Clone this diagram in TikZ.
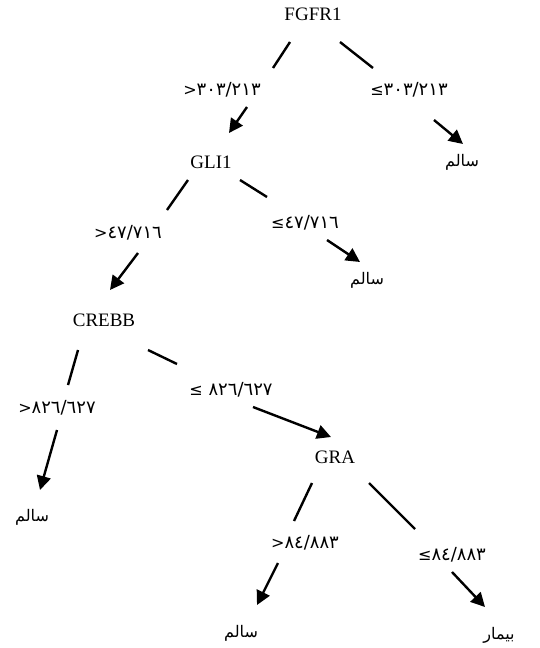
\documentclass[tikz,border=0pt]{standalone}
\usepackage{fontspec}
\setmainfont{Liberation Serif}
\newfontfamily\arabicfont[Script=Arabic]{DejaVu Sans}
\newfontfamily\numfont{DejaVu Sans}
\TeXXeTstate=1
\usetikzlibrary{arrows.meta}
% relation sign kept in its own left-to-right box
\newcommand{\relsign}[1]{\hbox{\fontsize{16}{19}\selectfont #1}}
\begin{document}
\begin{tikzpicture}[x=1pt,y=-1pt,
  feature/.style={inner sep=0pt,font=\fontsize{19}{22}\selectfont},
  cond/.style={inner sep=0pt,font=\numfont\fontsize{18}{21}\selectfont},
  leaf/.style={inner sep=0pt,font=\arabicfont\fontsize{16}{19}\selectfont},
  branch/.style={line width=2.4pt},
  arr/.style={line width=2.4pt,-{Triangle[length=14pt,width=14pt]}}]
\useasboundingbox[fill=white] (0,0) rectangle (540,648);

% feature nodes
\node[feature] (fgfr) at (313,14) {FGFR1};
\node[feature] (gli)  at (211,162) {GLI1};
\node[feature] (crebb) at (104,320) {CREBB};
\node[feature] (gra)  at (335,457) {GRA};

% leaves
\node[leaf] (h1) at (462,162) {\beginR سالم\endR};
\node[leaf] (h2) at (367,280) {\beginR سالم\endR};
\node[leaf] (h3) at (32,517) {\beginR سالم\endR};
\node[leaf] (h4) at (241,633) {\beginR سالم\endR};
\node[leaf] (s1) at (499,635) {\beginR بیمار\endR};

% split conditions
\node[cond] (c1l) at (222,90)  {\relsign{>}٣٠٣/٢١٣};
\node[cond] (c1r) at (409,90)  {\relsign{≤}٣٠٣/٢١٣};
\node[cond] (c2l) at (128,233) {\relsign{>}٤٧/٧١٦};
\node[cond] (c2r) at (305,223) {\relsign{≤}٤٧/٧١٦};
\node[cond] (c3l) at (57,408)  {\relsign{>}٨٢٦/٦٢٧};
\node[cond] (c3r) at (231,390) {\relsign{≤} ٨٢٦/٦٢٧};
\node[cond] (c4l) at (305,543) {\relsign{>}٨٤/٨٨٣};
\node[cond] (c4r) at (452,555) {\relsign{≤}٨٤/٨٨٣};

% branch end points
\coordinate (a1) at (290,42);  \coordinate (b1) at (273,68);
\coordinate (p1) at (247,107); \coordinate (q1) at (229,133);
\coordinate (a2) at (340,42);  \coordinate (b2) at (373,68);
\coordinate (p2) at (434,120); \coordinate (q2) at (463,144);

\coordinate (a3) at (188,180); \coordinate (b3) at (167,210);
\coordinate (p3) at (138,253); \coordinate (q3) at (110,290);
\coordinate (a4) at (240,180); \coordinate (b4) at (267,197);
\coordinate (p4) at (327,240); \coordinate (q4) at (360,262);

\coordinate (a5) at (78,350);  \coordinate (b5) at (68,385);
\coordinate (p5) at (57,430);  \coordinate (q5) at (40,490);
\coordinate (a6) at (148,350); \coordinate (b6) at (177,364);
\coordinate (p6) at (253,407); \coordinate (q6) at (331,437);

\coordinate (a7) at (312,483); \coordinate (b7) at (294,521);
\coordinate (p7) at (278,563); \coordinate (q7) at (257,605);
\coordinate (a8) at (369,483); \coordinate (b8) at (415,529);
\coordinate (p8) at (452,572); \coordinate (q8) at (485,607);

\foreach \i in {1,...,8}{
  \draw[branch] (a\i) -- (b\i);
  \draw[arr] (p\i) -- (q\i);
}
\end{tikzpicture}
\end{document}
